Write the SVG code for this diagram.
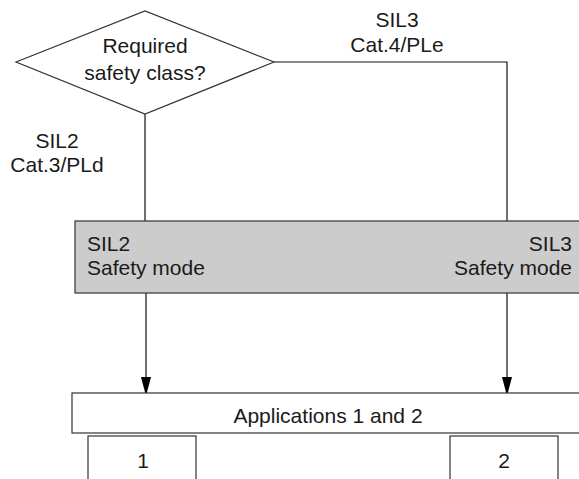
<svg xmlns="http://www.w3.org/2000/svg" width="579" height="479" viewBox="0 0 579 479">
<style>
text{font-family:"Liberation Sans",Arial,sans-serif;font-size:21px;fill:#1a1a1a}
.c{text-anchor:middle}
.e{text-anchor:end}
.shape{fill:#fff;stroke:#333;stroke-width:1.2}
.gray{fill:#cccccc;stroke:#333;stroke-width:1.2}
.line{fill:none;stroke:#111;stroke-width:1.2}
</style>
<defs>
<marker id="arr" markerWidth="10" markerHeight="18" refX="5" refY="18" orient="auto" markerUnits="userSpaceOnUse" viewBox="0 0 10 18">
<path d="M0,0 L10,0 L5,18 Z" fill="#000"/>
</marker>
</defs>
<g id="connectors">
<polyline class="line" points="145,114 145,221"/>
<polyline class="line" points="274,62 507,62 507,221"/>
<line class="line" x1="146" y1="293" x2="146" y2="377"/>
<line class="line" x1="507" y1="293" x2="507" y2="377"/>
<path d="M141,377 L151,377 L146,396 Z" fill="#000"/>
<path d="M502,377 L512,377 L507,396 Z" fill="#000"/>
<text class="c" x="57" y="148">SIL2</text>
<text class="c" x="57" y="172">Cat.3/PLd</text>
<text class="c" x="397" y="27">SIL3</text>
<text class="c" x="397" y="52">Cat.4/PLe</text>
</g>
<g id="decision">
<polygon class="shape" points="16,62 145,11 274,62 145,114"/>
<text class="c" x="145" y="53">Required</text>
<text class="c" x="145" y="80">safety class?</text>
</g>
<g id="safety-mode">
<rect class="gray" x="75" y="221" width="520" height="72"/>
<text x="87" y="251">SIL2</text>
<text x="87" y="275">Safety mode</text>
<text class="e" x="572" y="251">SIL3</text>
<text class="e" x="572" y="275">Safety mode</text>
</g>
<g id="applications">
<rect class="shape" x="72" y="393" width="520" height="40"/>
<text class="c" x="328" y="423">Applications 1 and 2</text>
</g>
<g id="app1">
<rect class="shape" x="88" y="436" width="108" height="60"/>
<text class="c" x="143" y="468">1</text>
</g>
<g id="app2">
<rect class="shape" x="450" y="436" width="108" height="60"/>
<text class="c" x="504" y="468">2</text>
</g>
</svg>
